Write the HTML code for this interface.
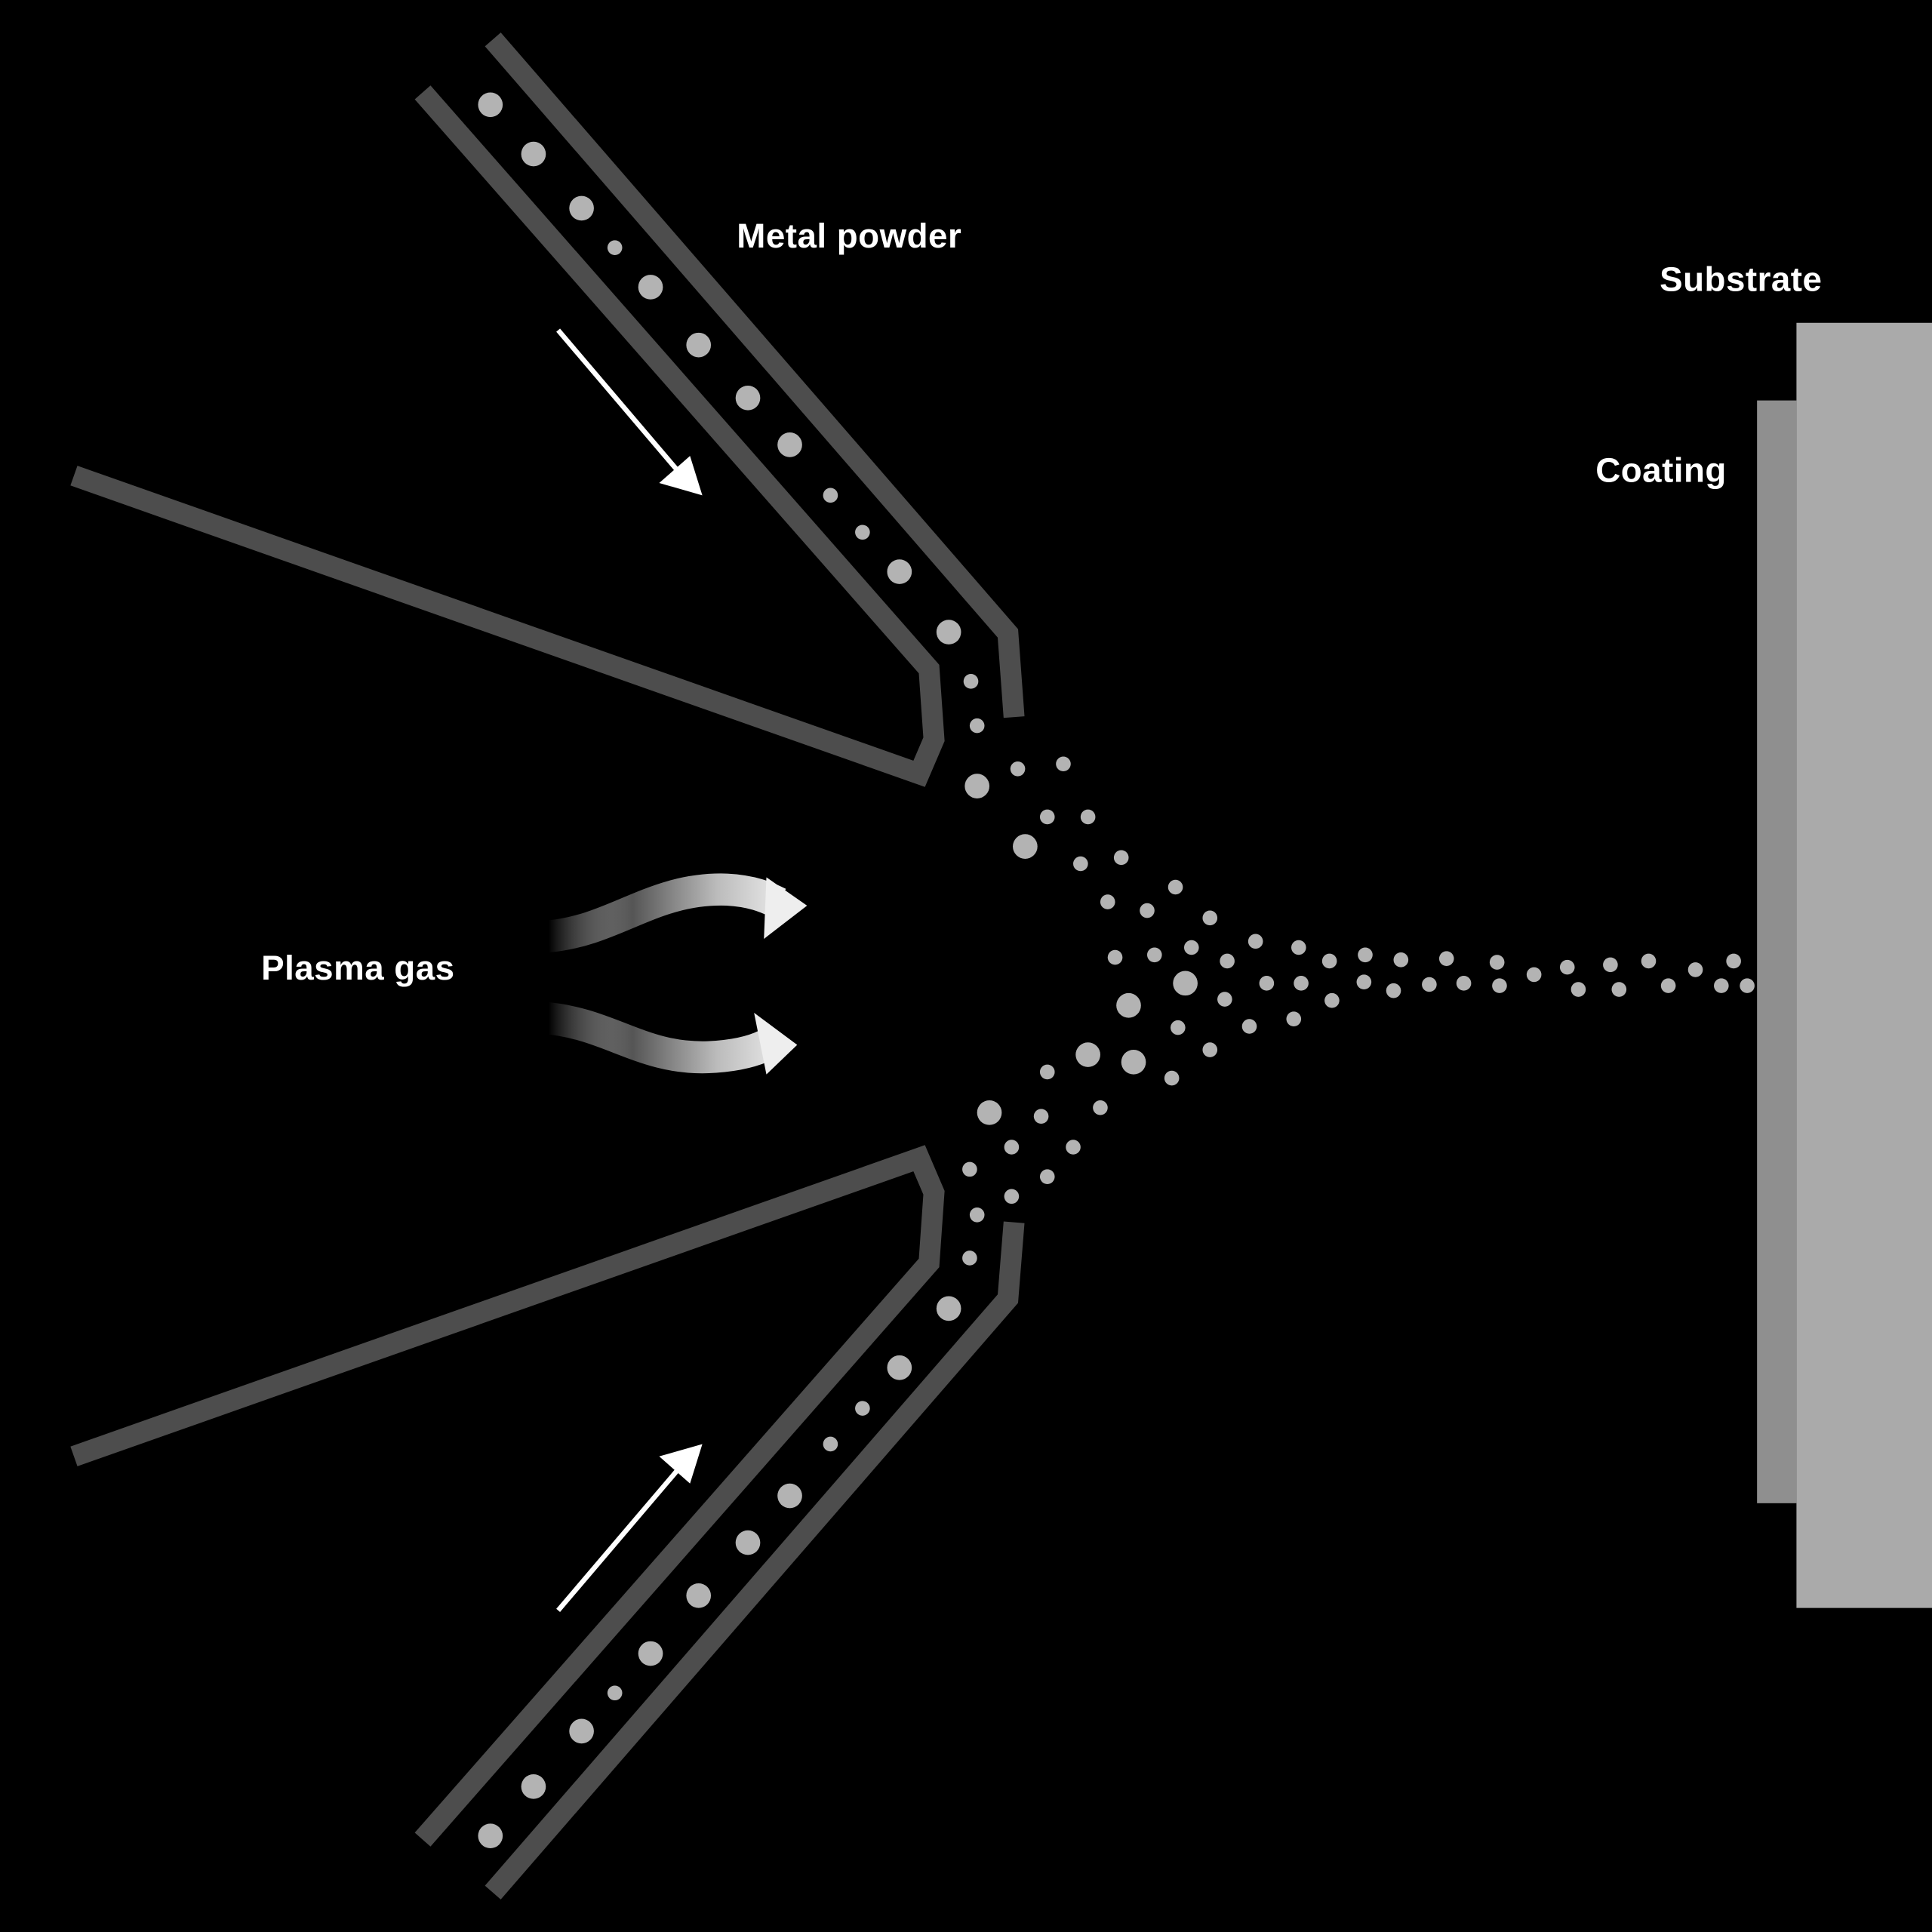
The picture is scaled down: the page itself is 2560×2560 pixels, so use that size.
<!DOCTYPE html>
<html><head><meta charset="utf-8"><style>
html,body{margin:0;padding:0;background:#000;}
svg{display:block;}
text{font-family:"Liberation Sans",sans-serif;fill:#fff;font-size:28px;letter-spacing:0.3px;font-weight:600;}
</style></head><body>
<svg width="2560" height="2560" viewBox="0 0 1568 1568" xmlns="http://www.w3.org/2000/svg">
<defs>
<linearGradient id="g" x1="445" y1="0" x2="640" y2="0" gradientUnits="userSpaceOnUse">
<stop offset="0" stop-color="#fff" stop-opacity="0"/>
<stop offset="0.35" stop-color="#555"/>
<stop offset="0.7" stop-color="#bbb"/>
<stop offset="1" stop-color="#eee"/>
</linearGradient>
</defs>
<rect width="1568" height="1568" fill="#000"/>
<g fill="none" stroke="#4d4d4d" stroke-width="17" stroke-linejoin="miter">
<path d="M400,32 L818,514 L823,582"/>
<path d="M343,75 L754,543 L758,600 L746,628 L60,386"/>
<path d="M400,1536 L818,1054 L823,992"/>
<path d="M343,1493 L754,1025 L758,968 L746,940 L60,1182"/>
</g>
<rect x="1458" y="262" width="110" height="1043" fill="#aaa"/>
<rect x="1426" y="325" width="32" height="895" fill="#8f8f8f"/>
<g stroke="#fff" stroke-width="4" fill="#fff">
<line x1="453" y1="268" x2="550" y2="382"/>
<polygon points="570,402 535,392 560,370" stroke="none"/>
<line x1="453" y1="1307" x2="550" y2="1193"/>
<polygon points="570,1172 535,1182 560,1204" stroke="none"/>
</g>
<g>
<path d="M445,760 C500,755 530,720 590,722 C610,723 622,728 632,733" fill="none" stroke="url(#g)" stroke-width="26"/>
<polygon points="622,712 655,735 620,762" fill="#eee"/>
<path d="M440,826 C495,830 520,860 575,858 C598,857 612,853 622,848" fill="none" stroke="url(#g)" stroke-width="26"/>
<polygon points="612,822 647,848 622,872" fill="#eee"/>
</g>
<g fill="#b3b3b3">
<circle cx="398" cy="85" r="10"/><circle cx="433" cy="125" r="10"/><circle cx="472" cy="169" r="10"/><circle cx="499" cy="201" r="6"/><circle cx="528" cy="233" r="10"/><circle cx="567" cy="280" r="10"/><circle cx="607" cy="323" r="10"/><circle cx="641" cy="361" r="10"/><circle cx="674" cy="402" r="6"/><circle cx="700" cy="432" r="6"/><circle cx="730" cy="464" r="10"/><circle cx="770" cy="513" r="10"/><circle cx="788" cy="553" r="6"/><circle cx="793" cy="589" r="6"/><circle cx="793" cy="638" r="10"/>
<circle cx="398" cy="1490" r="10"/><circle cx="433" cy="1450" r="10"/><circle cx="472" cy="1405" r="10"/><circle cx="499" cy="1374" r="6"/><circle cx="528" cy="1342" r="10"/><circle cx="567" cy="1295" r="10"/><circle cx="607" cy="1252" r="10"/><circle cx="641" cy="1214" r="10"/><circle cx="674" cy="1172" r="6"/><circle cx="700" cy="1143" r="6"/><circle cx="730" cy="1110" r="10"/><circle cx="770" cy="1062" r="10"/><circle cx="787" cy="1021" r="6"/><circle cx="793" cy="986" r="6"/><circle cx="803" cy="903" r="10"/>
<circle cx="826" cy="624" r="6"/><circle cx="863" cy="620" r="6"/><circle cx="850" cy="663" r="6"/><circle cx="883" cy="663" r="6"/><circle cx="832" cy="687" r="10"/><circle cx="877" cy="701" r="6"/><circle cx="910" cy="696" r="6"/><circle cx="954" cy="720" r="6"/><circle cx="899" cy="732" r="6"/><circle cx="931" cy="739" r="6"/><circle cx="982" cy="745" r="6"/><circle cx="1019" cy="764" r="6"/><circle cx="905" cy="777" r="6"/><circle cx="937" cy="775" r="6"/><circle cx="967" cy="769" r="6"/><circle cx="996" cy="780" r="6"/><circle cx="1054" cy="769" r="6"/><circle cx="1079" cy="780" r="6"/><circle cx="1108" cy="775" r="6"/><circle cx="1137" cy="779" r="6"/><circle cx="1174" cy="778" r="6"/><circle cx="1215" cy="781" r="6"/><circle cx="1245" cy="791" r="6"/><circle cx="1272" cy="785" r="6"/><circle cx="1307" cy="783" r="6"/><circle cx="1338" cy="780" r="6"/><circle cx="1376" cy="787" r="6"/><circle cx="1407" cy="780" r="6"/>
<circle cx="962" cy="798" r="10"/><circle cx="916" cy="816" r="10"/><circle cx="994" cy="811" r="6"/><circle cx="1028" cy="798" r="6"/><circle cx="1056" cy="798" r="6"/><circle cx="1081" cy="812" r="6"/><circle cx="1107" cy="797" r="6"/><circle cx="1131" cy="804" r="6"/><circle cx="1160" cy="799" r="6"/><circle cx="1188" cy="798" r="6"/><circle cx="1217" cy="800" r="6"/><circle cx="1281" cy="803" r="6"/><circle cx="1314" cy="803" r="6"/><circle cx="1354" cy="800" r="6"/><circle cx="1397" cy="800" r="6"/><circle cx="1418" cy="800" r="6"/>
<circle cx="956" cy="834" r="6"/><circle cx="1014" cy="833" r="6"/><circle cx="1050" cy="827" r="6"/><circle cx="982" cy="852" r="6"/><circle cx="883" cy="856" r="10"/><circle cx="920" cy="862" r="10"/><circle cx="951" cy="875" r="6"/><circle cx="850" cy="870" r="6"/><circle cx="893" cy="899" r="6"/><circle cx="845" cy="906" r="6"/><circle cx="821" cy="931" r="6"/><circle cx="871" cy="931" r="6"/><circle cx="787" cy="949" r="6"/><circle cx="850" cy="955" r="6"/><circle cx="821" cy="971" r="6"/>
</g>
<text x="598" y="201">Metal powder</text>
<text x="1347" y="236">Substrate</text>
<text x="1295" y="391">Coating</text>
<text x="212" y="795">Plasma gas</text>
</svg>
</body></html>
